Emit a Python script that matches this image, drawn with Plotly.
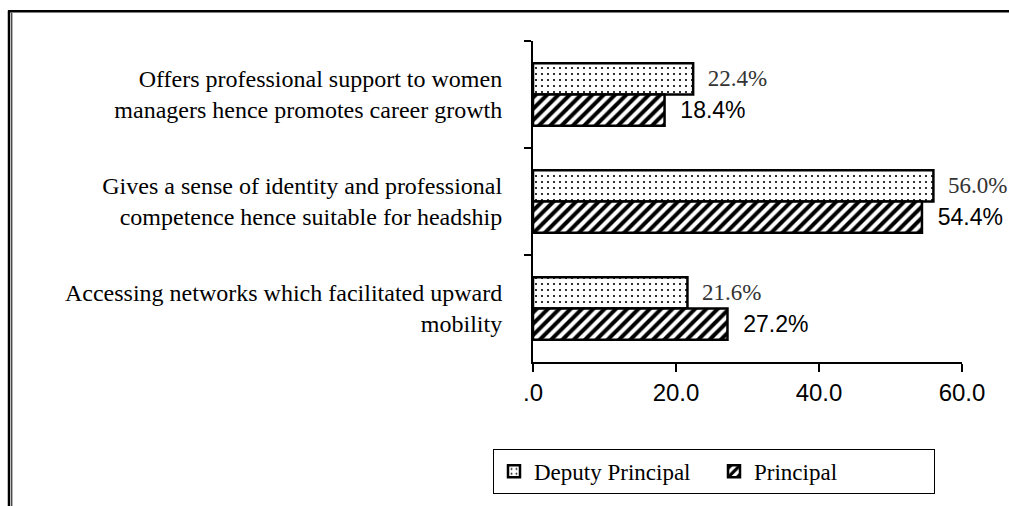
import plotly.graph_objects as go

categories = [
    "Offers professional support to women<br>managers hence promotes career growth",
    "Gives a sense of identity and professional<br>competence hence suitable for headship",
    "Accessing networks which facilitated upward<br>mobility",
]
deputy_principal = [22.4, 56.0, 21.6]
principal = [18.4, 54.4, 27.2]
x_tickvals = [0, 20, 40, 60]
x_ticktext = [".0", "20.0", "40.0", "60.0"]

SERIF = "Liberation Serif, Times New Roman, serif"
SANS = "Liberation Sans, Arial, sans-serif"
GAP = "\u00a0\u00a0"

fig = go.Figure()
fig.add_trace(go.Bar(
    y=categories, x=deputy_principal, orientation="h", name="Deputy Principal",
    marker=dict(color="white", line=dict(color="black", width=2.5),
                pattern=dict(shape=".", fgcolor="black", bgcolor="white", fgopacity=1,
                             size=6, solidity=0.1)),
    texttemplate=GAP + "%{x:.1f}%", textposition="outside", constraintext="none", cliponaxis=False,
    textfont=dict(family=SERIF, size=23, color="#333333"),
))
fig.add_trace(go.Bar(
    y=categories, x=principal, orientation="h", name="Principal",
    marker=dict(color="white", line=dict(color="black", width=2.5),
                pattern=dict(shape="/", fgcolor="black", bgcolor="white", fgopacity=1,
                             size=8, solidity=0.5)),
    texttemplate=GAP + "%{x:.1f}%", textposition="outside", constraintext="none", cliponaxis=False,
    textfont=dict(family=SANS, size=23, color="black"),
))

def px_x(p):
    return (p - 533) / 429.0

def px_y(p):
    return (366 - p) / 325.0

shapes = [
    dict(type="line", xref="paper", yref="paper", x0=px_x(8), x1=px_x(1015), y0=px_y(11), y1=px_y(11),
         line=dict(color="black", width=2.5)),
    dict(type="line", xref="paper", yref="paper", x0=px_x(9), x1=px_x(9), y0=px_y(10), y1=px_y(515),
         line=dict(color="black", width=2.5)),
    dict(type="line", xref="paper", yref="paper", x0=px_x(11.8), x1=px_x(11.8), y0=px_y(12.5), y1=px_y(515),
         line=dict(color="black", width=1)),
]

fig.update_layout(
    width=1009, height=506,
    margin=dict(l=533, r=47, t=41, b=140),
    paper_bgcolor="white", plot_bgcolor="white",
    barmode="group", bargap=0.415, bargroupgap=0,
    showlegend=True,
    legend=dict(orientation="h", xref="paper", yref="paper",
                x=px_x(493), xanchor="left", y=px_y(454), yanchor="top",
                bordercolor="black", borderwidth=1, bgcolor="white",
                font=dict(family=SERIF, size=23, color="black"),
                entrywidth=175, traceorder="normal"),
    shapes=shapes,
    xaxis=dict(range=[0, 60], tickvals=x_tickvals, ticktext=x_ticktext,
               ticks="outside", ticklen=8, tickwidth=1.5, tickcolor="black",
               showline=True, linecolor="black", linewidth=1.5, showgrid=False, zeroline=False,
               tickfont=dict(family=SANS, size=24, color="black")),
    yaxis=dict(autorange="reversed", tickson="boundaries", ticks="outside", ticklen=7,
               tickcolor="black", tickwidth=1.5,
               showline=True, linecolor="black", linewidth=2, showgrid=False,
               ticklabelstandoff=24,
               tickfont=dict(family=SERIF, size=24, color="black")),
)

fig.write_html("out.html", config={"displayModeBar": False},
               post_script="document.body.style.margin='0';")
